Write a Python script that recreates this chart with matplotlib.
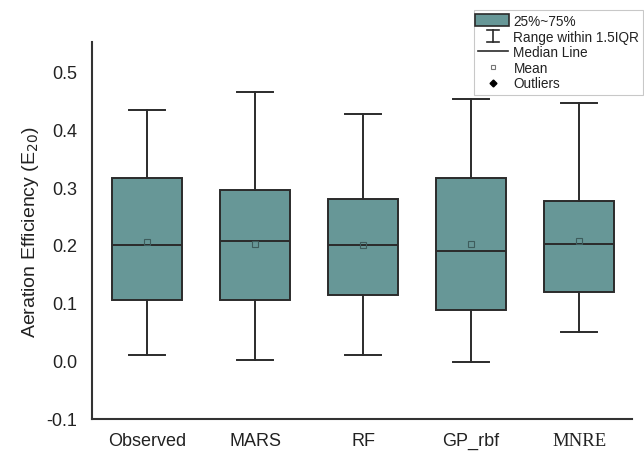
import matplotlib
matplotlib.use("Agg")
import matplotlib.pyplot as plt
from matplotlib.patches import Patch, Rectangle
from matplotlib.lines import Line2D
from matplotlib.legend_handler import HandlerBase

models  = ["Observed", "MARS", "RF", "GP_rbf", "MNRE"]
whislo  = [0.010, 0.000, 0.010, -0.003, 0.050]
q1      = [0.104, 0.104, 0.113, 0.088, 0.118]
median  = [0.199, 0.207, 0.199, 0.190, 0.202]
q3      = [0.315, 0.294, 0.280, 0.315, 0.275]
whishi  = [0.434, 0.465, 0.427, 0.453, 0.446]
means   = [0.204, 0.202, 0.199, 0.202, 0.206]

BOX_FC = "#679797"
EDGE = "#2b2b2b"

plt.rcParams["font.family"] = ["Liberation Sans", "DejaVu Sans"]

fig = plt.figure(figsize=(6.44, 4.52), dpi=100)
ax = fig.add_axes([0.143, 0.07, 0.8385, 0.835])

stats = []
for i, name in enumerate(models):
    stats.append(dict(label=name, whislo=whislo[i], q1=q1[i], med=median[i],
                      q3=q3[i], whishi=whishi[i], mean=means[i], fliers=[]))

ax.bxp(stats, positions=range(1, 6), widths=0.65, capwidths=0.33,
       showmeans=True, patch_artist=True,
       boxprops=dict(facecolor=BOX_FC, edgecolor=EDGE, linewidth=1.4),
       medianprops=dict(color=EDGE, linewidth=1.4),
       whiskerprops=dict(color=EDGE, linewidth=1.4),
       capprops=dict(color=EDGE, linewidth=1.4),
       meanprops=dict(marker="s", markerfacecolor="none",
                      markeredgecolor="#3e5c5c", markersize=4,
                      markeredgewidth=0.8))

ax.set_xlim(0.49, 5.49)
ax.set_ylim(-0.102, 0.551)
ax.set_yticks([-0.1, 0.0, 0.1, 0.2, 0.3, 0.4, 0.5])
ax.set_yticklabels(["-0.1", "0.0", "0.1", "0.2", "0.3", "0.4", "0.5"])
ax.tick_params(length=0, labelsize=13, colors="#222222")
ax.tick_params(axis="y", pad=10.5)
ax.tick_params(axis="x", pad=9)
for lbl in ax.get_xticklabels():
    if lbl.get_text() == "MNRE":
        lbl.set_family(["Liberation Serif", "DejaVu Serif"])
        lbl.set_fontsize(13.5)

for side in ["top", "right"]:
    ax.spines[side].set_visible(False)
for side in ["left", "bottom"]:
    ax.spines[side].set_color("#333333")
    ax.spines[side].set_linewidth(1.5)

ax.set_ylabel("Aeration Efficiency (E$_{20}$)", fontsize=14, labelpad=4,
              color="#222222")


class IBeamHandler(HandlerBase):
    # whisker symbol: vertical stem with caps at both ends
    def create_artists(self, legend, orig_handle, xd, yd, width, height,
                       fontsize, trans):
        cx = xd + width / 2
        h = height * 1.2
        y0 = yd + height / 2 - h / 2
        w = width * 0.38
        kw = dict(color=EDGE, linewidth=1.2, transform=trans)
        return [Line2D([cx, cx], [y0, y0 + h], **kw),
                Line2D([cx - w / 2, cx + w / 2], [y0, y0], **kw),
                Line2D([cx - w / 2, cx + w / 2], [y0 + h, y0 + h], **kw)]


class BoxHandler(HandlerBase):
    def create_artists(self, legend, orig_handle, xd, yd, width, height,
                       fontsize, trans):
        r = Rectangle((xd - 2, yd - 1), width + 3, height + 2,
                      facecolor=BOX_FC, edgecolor=EDGE, linewidth=1.2,
                      transform=trans)
        return [r]


box_h = Patch()
ibeam_h = Line2D([], [])
handles = [box_h, ibeam_h,
           Line2D([], [], color=EDGE, linewidth=1.2),
           Line2D([], [], marker="s", ls="none", markerfacecolor="none",
                  markeredgecolor="#777777", markersize=3.5, markeredgewidth=0.8),
           Line2D([], [], marker="D", ls="none", color="black", markersize=3.5)]
labels = ["25%~75%", "Range within 1.5IQR", "Median Line", "Mean", "Outliers"]

leg = fig.legend(handles, labels, loc="upper right",
                 bbox_to_anchor=(0.999, 0.976), fontsize=9.8, frameon=True,
                 fancybox=False, edgecolor="#bbbbbb", handlelength=2.2,
                 handletextpad=0.4, labelspacing=0.12, borderpad=0.3,
                 borderaxespad=0.0,
                 handler_map={box_h: BoxHandler(), ibeam_h: IBeamHandler()})
leg.get_frame().set_linewidth(0.8)
for t in leg.get_texts():
    t.set_color("#222222")

fig.savefig("out.png", dpi=100, facecolor="white")
